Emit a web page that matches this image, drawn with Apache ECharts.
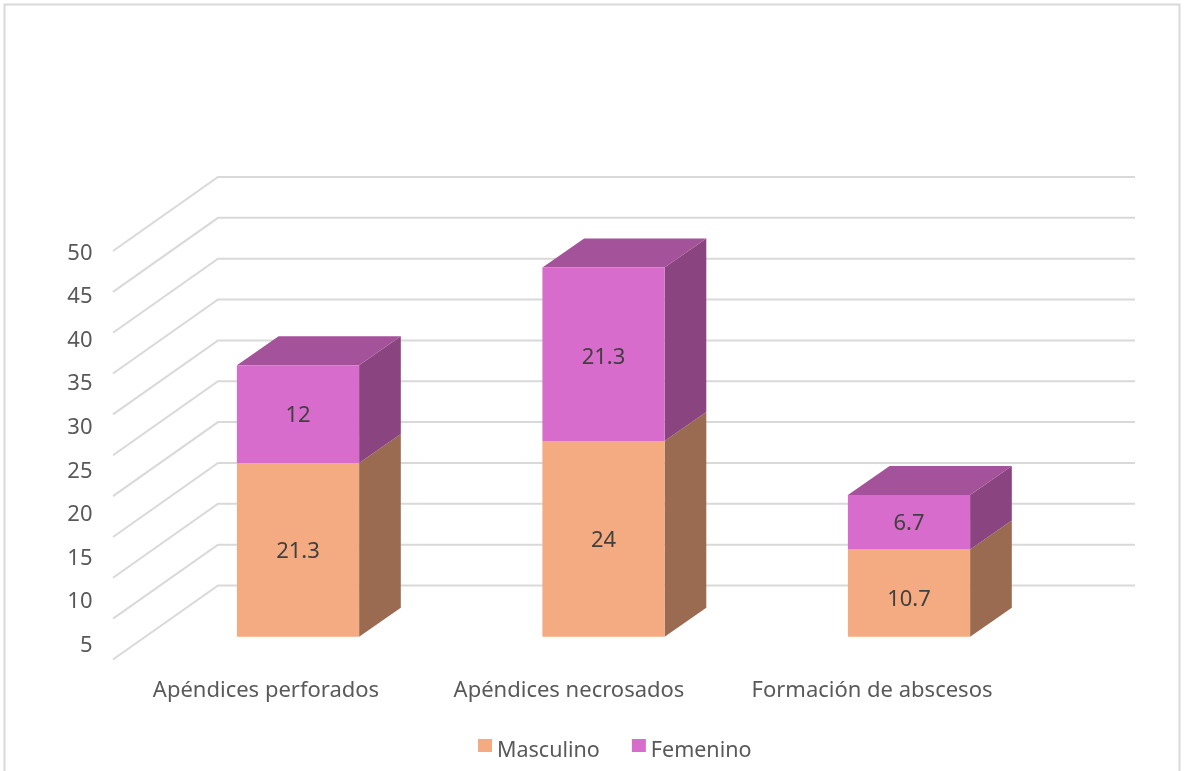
<!DOCTYPE html>
<html>
<head>
<meta charset="utf-8">
<style>
  html, body { margin: 0; padding: 0; background: #fff; }
  #chart { width: 1186px; height: 771px; }
</style>
<script src="https://cdn.jsdelivr.net/npm/echarts@6/dist/echarts.min.js"></script>
</head>
<body>
<div id="chart"></div>
<script>
// Complicaciones por sexo
const categories = ['Apéndices perforados', 'Apéndices necrosados', 'Formación de abscesos'];
const masculino = [21.3, 24, 10.7];
const femenino = [12, 21.3, 6.7];
const wallTicks = [0, 5, 10, 15, 20, 25, 30, 35, 40, 45, 50];

const FONT = '"Noto Sans"';
const FONT_SIZE = 22;
const TEXT_COLOR = '#595959';
const LABEL_COLOR = '#404040';
const WALL_COLOR = '#D9D9D9';

// Oblique projection of the box depth
const BAR_DX = 41.7;
const BAR_DY = -29;
const WALL_DX = -105;
const WALL_DY = 74;

// Fill per face of the boxes
const PALETTE = {
  Masculino: { front: '#F4AB82', side: '#9A6B50', top: '#B98062', labelShift: [2, 2, 7] },
  Femenino: { front: '#D86CCC', side: '#8A4480', top: '#A4529A', labelShift: [2, 3, 2] }
};

function wallItem(params, api) {
  const v = api.value(1);
  const a = api.coord([0, v]);
  const b = api.coord([1, v]);
  return {
    type: 'polyline',
    silent: true,
    shape: { points: [[a[0] + WALL_DX, a[1] + WALL_DY], a, b] },
    style: { fill: null, stroke: WALL_COLOR, lineWidth: 2 }
  };
}

function boxRenderer(name, showTop) {
  const colors = PALETTE[name];
  return function (params, api) {
    const i = api.value(0);
    const base = api.value(1);
    const value = api.value(2);
    const low = api.coord([i, base]);
    const high = api.coord([i, base + value]);
    const w = api.size([1, 0])[0] * 0.4;
    const x0 = low[0] - w / 2;
    const x1 = low[0] + w / 2;
    const y0 = low[1];
    const y1 = high[1];
    const children = [
      {
        type: 'polygon',
        shape: { points: [[x1, y0], [x1 + BAR_DX, y0 + BAR_DY], [x1 + BAR_DX, y1 + BAR_DY], [x1, y1]] },
        style: { fill: colors.side }
      },
      {
        type: 'rect',
        shape: { x: x0, y: y1, width: w, height: y0 - y1 },
        style: { fill: colors.front }
      },
      {
        type: 'text',
        style: {
          x: low[0],
          y: (y0 + y1) / 2 + colors.labelShift[i],
          text: String(value),
          fill: LABEL_COLOR,
          font: FONT_SIZE + 'px ' + FONT,
          align: 'center',
          verticalAlign: 'middle'
        }
      }
    ];
    if (showTop) {
      children.splice(1, 0, {
        type: 'polygon',
        shape: { points: [[x0, y1], [x0 + BAR_DX, y1 + BAR_DY], [x1 + BAR_DX, y1 + BAR_DY], [x1, y1]] },
        style: { fill: colors.top }
      });
    }
    return { type: 'group', children };
  };
}

function stackedData(values, below) {
  return values.map((v, i) => [i, below ? below[i] : 0, v]);
}

const chart = echarts.init(document.getElementById('chart'), null, { renderer: 'canvas' });

chart.setOption({
  animation: false,
  backgroundColor: '#ffffff',
  textStyle: { fontFamily: FONT },
  graphic: [{
    type: 'rect',
    silent: true,
    shape: { x: 4.5, y: 4.5, width: 1175, height: 800 },
    style: { fill: null, stroke: WALL_COLOR, lineWidth: 2 }
  }],
  legend: {
    data: ['Masculino', 'Femenino'],
    left: 473,
    top: 734,
    icon: 'rect',
    itemWidth: 14,
    itemHeight: 13,
    itemGap: 32,
    selectedMode: false,
    formatter: '{t|{name}}',
    textStyle: {
      color: TEXT_COLOR,
      fontSize: 21.5,
      fontFamily: FONT,
      rich: {
        t: {
          color: TEXT_COLOR,
          fontSize: 21.5,
          fontFamily: FONT,
          padding: [10, 0, 0, 0],
          verticalAlign: 'bottom'
        }
      }
    }
  },
  grid: [
    { left: 145.25, top: 188.45, width: 916.5, height: 448.25 },
    { left: 114.5, top: 253.5, width: 909, height: 392 },
    { left: 218, top: 177, width: 917, height: 408.5 }
  ],
  xAxis: [
    { gridIndex: 0, type: 'category', data: categories, show: false },
    {
      gridIndex: 1,
      type: 'category',
      data: categories,
      axisLine: { show: false },
      axisTick: { show: false },
      axisLabel: { color: TEXT_COLOR, fontSize: FONT_SIZE, fontFamily: FONT, margin: 34, interval: 0 }
    },
    { gridIndex: 2, type: 'value', min: 0, max: 1, show: false }
  ],
  yAxis: [
    { gridIndex: 0, type: 'value', min: 0, max: 55, show: false },
    {
      gridIndex: 1,
      type: 'value',
      min: 5,
      max: 50,
      interval: 5,
      axisLine: { show: false },
      axisTick: { show: false },
      splitLine: { show: false },
      axisLabel: { color: TEXT_COLOR, fontSize: FONT_SIZE, fontFamily: FONT, margin: 22 }
    },
    { gridIndex: 2, type: 'value', min: 0, max: 50, show: false }
  ],
  series: [
    {
      name: 'Paredes',
      type: 'custom',
      xAxisIndex: 2,
      yAxisIndex: 2,
      data: wallTicks.map(v => [0, v]),
      renderItem: wallItem,
      silent: true
    },
    {
      name: 'Masculino',
      type: 'custom',
      xAxisIndex: 0,
      yAxisIndex: 0,
      itemStyle: { color: PALETTE.Masculino.front },
      encode: { x: 0, y: [1, 2] },
      data: stackedData(masculino),
      renderItem: boxRenderer('Masculino', false)
    },
    {
      name: 'Femenino',
      type: 'custom',
      xAxisIndex: 0,
      yAxisIndex: 0,
      itemStyle: { color: PALETTE.Femenino.front },
      encode: { x: 0, y: [1, 2] },
      data: stackedData(femenino, masculino),
      renderItem: boxRenderer('Femenino', true)
    }
  ]
});
</script>
</body>
</html>
